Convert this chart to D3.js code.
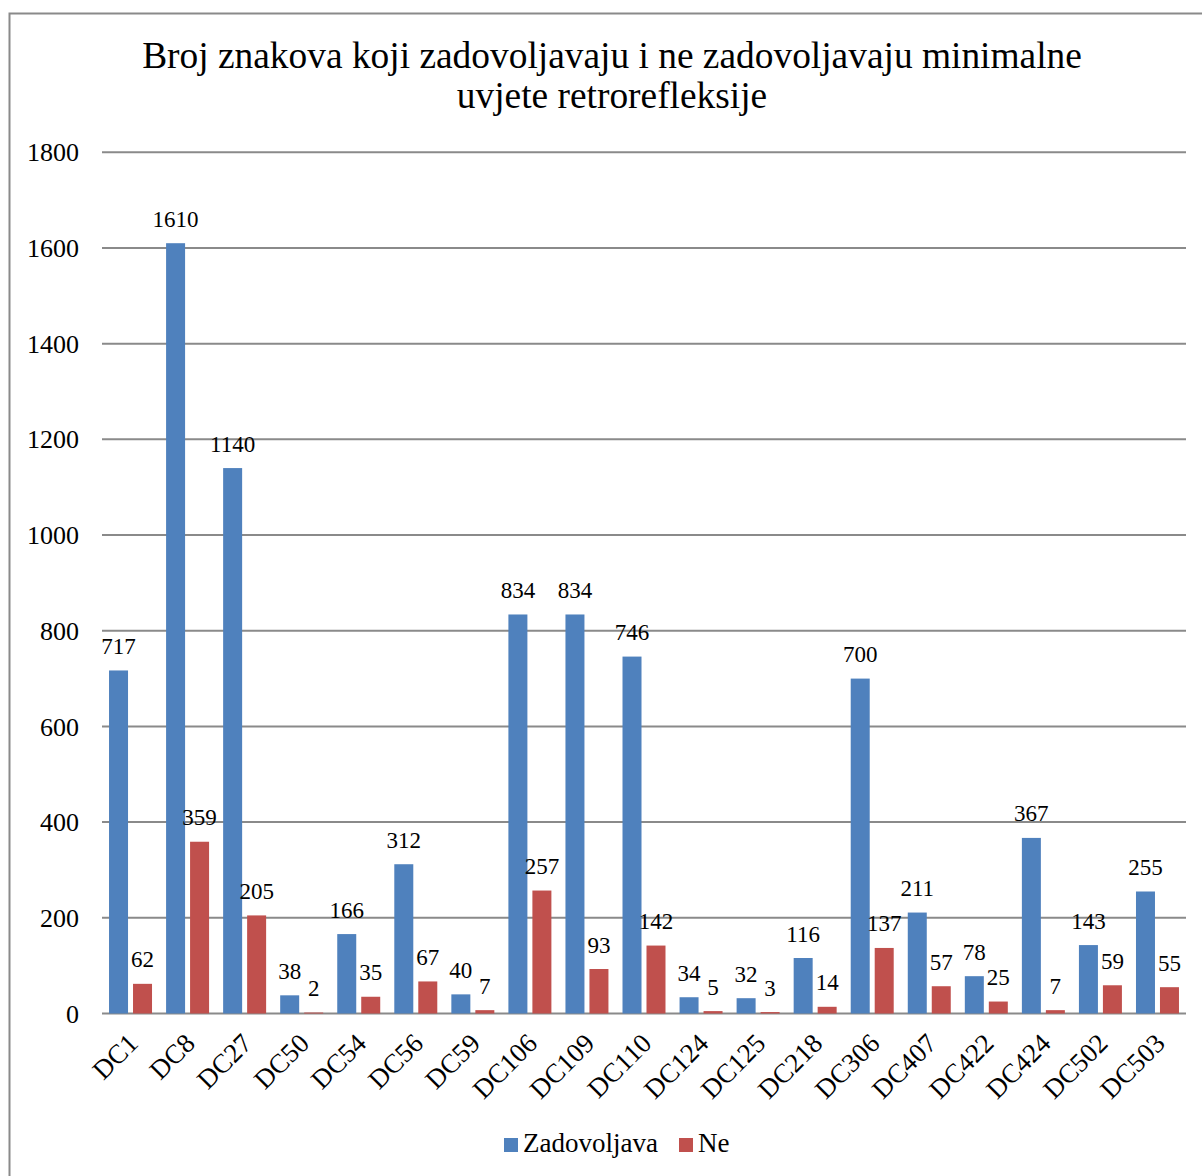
<!DOCTYPE html>
<html><head><meta charset="utf-8">
<script src="https://cdn.jsdelivr.net/npm/d3@7"></script>
<style>html,body{margin:0;padding:0;background:#fff}svg{display:block}text{font-family:"Liberation Serif","Times New Roman",serif;fill:#000}</style>
</head><body>
<script>
const categories = ["DC1","DC8","DC27","DC50","DC54","DC56","DC59","DC106","DC109","DC110","DC124","DC125","DC218","DC306","DC407","DC422","DC424","DC502","DC503"];
const zadovoljava = [717,1610,1140,38,166,312,40,834,834,746,34,32,116,700,211,78,367,143,255];
const ne = [62,359,205,2,35,67,7,257,93,142,5,3,14,137,57,25,7,59,55];
const yTicks = [0,200,400,600,800,1000,1200,1400,1600,1800];
const seriesNames = ["Zadovoljava","Ne"];
const colors = ["#4F81BD","#C0504D"];
const titleLines = ["Broj znakova koji zadovoljavaju i ne zadovoljavaju minimalne","uvjete retrorefleksije"];

const W = 1202, H = 1176;
const svg = d3.select("body").append("svg").attr("width", W).attr("height", H);
svg.append("rect").attr("x",9.5).attr("y",13.5).attr("width",1210).attr("height",1180)
  .attr("fill","none").attr("stroke","#8a8a8a").attr("stroke-width",2);

const x = d3.scaleBand().domain(categories).range([102,1186]);
const y = d3.scaleLinear().domain([0,1800]).range([1013.5,152.3]);

// title
svg.append("text").attr("text-anchor","middle").attr("font-size",37.4)
  .selectAll("tspan").data(titleLines).join("tspan")
  .attr("x",612).attr("y",(d,i)=>68+i*40).text(d=>d);

// gridlines
svg.append("g").selectAll("line").data(yTicks).join("line")
  .attr("x1",102).attr("x2",1186).attr("y1",d=>y(d)).attr("y2",d=>y(d))
  .attr("stroke","#8a8a8a").attr("stroke-width",2);

// y axis labels
svg.append("g").selectAll("text").data(yTicks).join("text")
  .attr("x",79).attr("y",d=>y(d)).attr("dy","0.35em").attr("text-anchor","end")
  .attr("font-size",26).text(d=>d);

const bw = x.bandwidth();
const barW = bw*0.333, gap = bw*0.0875, off = (bw - 2*barW - gap)/2;
const series = [zadovoljava, ne];
series.forEach((vals, s) => {
  const g = svg.append("g");
  const bx = (c) => x(c) + off + s*(barW+gap);
  g.selectAll("rect").data(categories).join("rect")
    .attr("x", c=>bx(c)).attr("width", barW)
    .attr("y", (c,i)=>y(vals[i])).attr("height",(c,i)=>y(0)-y(vals[i]))
    .attr("fill", colors[s]);
  g.selectAll("text").data(categories).join("text")
    .attr("x", c=>bx(c)+barW/2).attr("y",(c,i)=>y(vals[i])-16.5)
    .attr("text-anchor","middle").attr("font-size",23).text((c,i)=>vals[i]);
});

// category labels
svg.append("g").selectAll("text").data(categories).join("text")
  .attr("transform", c=>`translate(${x(c)+bw/2+9},1045) rotate(-45)`)
  .attr("text-anchor","end").attr("font-size",27).text(c=>c);

// legend
const leg = [{x:504,tx:523},{x:679,tx:698}];
seriesNames.forEach((n,i)=>{
  svg.append("rect").attr("x",leg[i].x).attr("y",1138).attr("width",14).attr("height",14).attr("fill",colors[i]);
  svg.append("text").attr("x",leg[i].tx).attr("y",1152).attr("font-size",27).text(n);
});
</script>
</body></html>
